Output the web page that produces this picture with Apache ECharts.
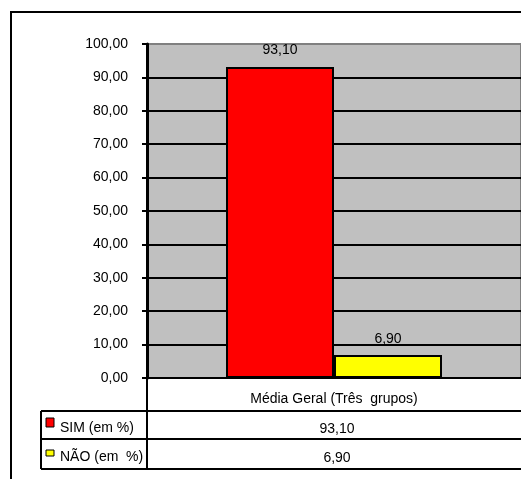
<!DOCTYPE html>
<html>
<head>
<meta charset="utf-8">
<script src="https://cdn.jsdelivr.net/npm/echarts@6/dist/echarts.min.js"></script>
<style>
  html, body { margin: 0; padding: 0; background: #fff; }
  #chart { width: 521px; height: 479px; }
</style>
</head>
<body>
<div id="chart"></div>
<script>
// Chart data
const categories = ['Média Geral (Três  grupos)'];
const seriesNames = ['SIM (em %)', 'NÃO (em  %)'];
const simValues = [93.10];
const naoValues = [6.90];
const yTickLabels = ['0,00', '10,00', '20,00', '30,00', '40,00', '50,00',
                     '60,00', '70,00', '80,00', '90,00', '100,00'];
const seriesColors = ['#ff0000', '#ffff00'];

const FONT = "'Liberation Sans', Arial, sans-serif";
const FS = 14;
const fmt = v => v.toFixed(2).replace('.', ',');

// Data-table geometry under the plot
const tblLeft = 41, tblSplit = 147, tblRight = 530;
const rowLines = [411, 439, 469];
const axisY = 378;

const chart = echarts.init(document.getElementById('chart'), null, { renderer: 'canvas' });

const seriesData = [simValues, naoValues];
const tableGraphics = [];

// outer frame
tableGraphics.push({
  type: 'rect', shape: { x: 11, y: 12, width: 540, height: 500 },
  style: { fill: 'none', stroke: '#000', lineWidth: 2 }, z: 100
});
// vertical lines of the table
tableGraphics.push({ type: 'line', shape: { x1: tblSplit, y1: axisY, x2: tblSplit, y2: rowLines[2] },
  style: { stroke: '#000', lineWidth: 2 }, z: 100 });
tableGraphics.push({ type: 'line', shape: { x1: tblLeft, y1: rowLines[0], x2: tblLeft, y2: rowLines[2] },
  style: { stroke: '#000', lineWidth: 2 }, z: 100 });
// horizontal lines
rowLines.forEach(y => tableGraphics.push({
  type: 'line', shape: { x1: tblLeft, y1: y, x2: tblRight, y2: y },
  style: { stroke: '#000', lineWidth: 2 }, z: 100
}));

// legend keys, names and values for each row
const keyBoxes = [{ y: 418, h: 9 }, { y: 450, h: 6 }];
seriesNames.forEach((name, i) => {
  const top = rowLines[i], bottom = rowLines[i + 1];
  const cy = (top + bottom) / 2 + 3;
  tableGraphics.push({
    type: 'rect', shape: { x: 46, y: keyBoxes[i].y, width: 8, height: keyBoxes[i].h },
    style: { fill: seriesColors[i], stroke: '#000', lineWidth: 1 }, z: 101
  });
  tableGraphics.push({
    type: 'text', x: 60, y: cy,
    style: { text: name, font: FS + 'px ' + FONT, fill: '#000', verticalAlign: 'middle', align: 'left' }, z: 101
  });
  tableGraphics.push({
    type: 'text', x: 337, y: cy + 1,
    style: { text: fmt(seriesData[i][0]), font: FS + 'px ' + FONT, fill: '#000', verticalAlign: 'middle', align: 'center' }, z: 101
  });
});

const option = {
  animation: false,
  backgroundColor: '#ffffff',
  grid: {
    left: 147, top: 44, right: -1, bottom: 479 - axisY,
    show: true, backgroundColor: '#c0c0c0', borderColor: '#808080', borderWidth: 2
  },
  xAxis: {
    type: 'category',
    data: categories,
    axisLine: { show: true, lineStyle: { color: '#000', width: 2 } },
    axisTick: { show: false },
    axisLabel: { margin: 14, color: '#000', fontFamily: FONT, fontSize: FS },
    splitLine: { show: false }
  },
  yAxis: {
    type: 'value',
    min: 0, max: 100, interval: 10,
    axisLine: { show: true, lineStyle: { color: '#000', width: 3 } },
    axisTick: { show: true, length: 5, lineStyle: { color: '#000', width: 2 } },
    axisLabel: {
      margin: 19, color: '#000', fontFamily: FONT, fontSize: FS,
      padding: [8, 0, 0, 0],
      formatter: (v) => yTickLabels[Math.round(v / 10)]
    },
    splitLine: { show: true, showMinLine: false, showMaxLine: false, lineStyle: { color: '#000', width: 2 } }
  },
  series: [
    {
      name: seriesNames[0], type: 'bar', data: simValues,
      barWidth: 108, barGap: '0%',
      itemStyle: { color: seriesColors[0], borderColor: '#000', borderWidth: 2 },
      label: { show: true, position: 'top', distance: 10, formatter: p => fmt(p.value),
               color: '#000', fontFamily: FONT, fontSize: FS }
    },
    {
      name: seriesNames[1], type: 'bar', data: naoValues,
      barWidth: 108, barGap: '0%',
      itemStyle: { color: seriesColors[1], borderColor: '#000', borderWidth: 2 },
      label: { show: true, position: 'top', distance: 9, formatter: p => fmt(p.value),
               color: '#000', fontFamily: FONT, fontSize: FS }
    }
  ],
  graphic: tableGraphics
};

chart.setOption(option);
</script>
</body>
</html>
